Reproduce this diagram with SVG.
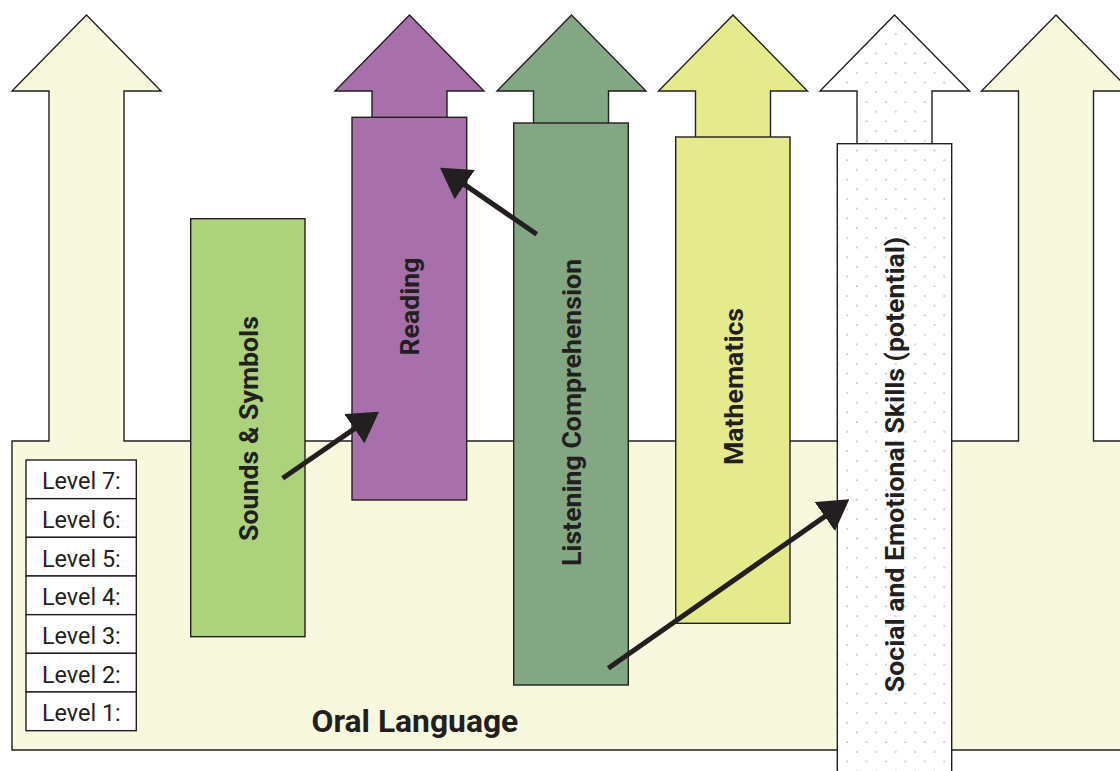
<svg xmlns="http://www.w3.org/2000/svg" width="1120" height="771" viewBox="0 0 1120 771">
  <style>
    .shape { stroke: #231f20; stroke-width: 1.4; stroke-linejoin: miter; }
    .cream { fill: #f8f8de; }
    .purple { fill: #a870ab; }
    .green { fill: #82a782; }
    .lgreen { fill: #acd37c; }
    .yellow { fill: #e5ea8c; }
    .dotted { fill: url(#dots); }
    .vlabel { font-family: Roboto, "Liberation Sans", sans-serif; font-weight: bold; font-size: 26.7px; fill: #231f20; text-anchor: middle; }
    .level { font-family: Roboto, "Liberation Sans", sans-serif; font-size: 23.4px; fill: #231f20; }
    .title { font-family: Roboto, "Liberation Sans", sans-serif; font-weight: bold; font-size: 31.8px; fill: #231f20; }
    .box { fill: #ffffff; stroke: #231f20; stroke-width: 1.4; }
    .conn { stroke: #231f20; stroke-width: 5; fill: none; marker-end: url(#head); }
  </style>
  <defs>
    <pattern id="dots" patternUnits="userSpaceOnUse" x="837.5" y="0" width="19.4" height="19.4">
      <rect width="19.4" height="19.4" fill="#ffffff"/>
      <circle cx="9.7" cy="5" r="0.8" fill="#a8a8a8"/>
      <circle cx="0" cy="14.7" r="0.8" fill="#a8a8a8"/>
      <circle cx="19.4" cy="14.7" r="0.8" fill="#a8a8a8"/>
    </pattern>
    <marker id="head" markerUnits="strokeWidth" viewBox="0 0 6 7.1" markerWidth="6" markerHeight="7.1" refX="0.4" refY="3.55" orient="auto">
      <path d="M0,0 L6,3.55 L0,7.1 Z" fill="#231f20"/>
    </marker>
  </defs>

  <g id="oral-language">
    <path class="shape cream" d="M12,441 L49,441 L49,91 L12,91 L86.5,15 L161,91 L124,91 L124,441 L1018.5,441 L1018.5,91 L981.5,91 L1056,15 L1130.5,91 L1093.5,91 L1093.5,441 L1130,441 L1130,750 L12,750 Z"/>
    <text class="title" x="311.5" y="731.5">Oral Language</text>
  </g>

  <g id="levels">
    <rect class="box" x="26" y="460" width="110.3" height="38.67"/>
    <rect class="box" x="26" y="498.67" width="110.3" height="38.67"/>
    <rect class="box" x="26" y="537.33" width="110.3" height="38.67"/>
    <rect class="box" x="26" y="576" width="110.3" height="38.67"/>
    <rect class="box" x="26" y="614.67" width="110.3" height="38.67"/>
    <rect class="box" x="26" y="653.33" width="110.3" height="38.67"/>
    <rect class="box" x="26" y="692" width="110.3" height="38.67"/>
    <text class="level" x="42" y="489.3">Level 7:</text>
    <text class="level" x="42" y="528">Level 6:</text>
    <text class="level" x="42" y="566.6">Level 5:</text>
    <text class="level" x="42" y="605.3">Level 4:</text>
    <text class="level" x="42" y="644">Level 3:</text>
    <text class="level" x="42" y="682.6">Level 2:</text>
    <text class="level" x="42" y="721.3">Level 1:</text>
  </g>

  <g id="sounds-symbols">
    <rect class="shape lgreen" x="190.7" y="218.7" width="114.3" height="418"/>
    <text class="vlabel" transform="translate(257.5,428.5) rotate(-90)">Sounds &amp; Symbols</text>
  </g>

  <g id="reading">
    <polygon class="shape purple" points="409.5,15 484,91 447,91 447,125 372,125 372,91 335,91"/>
    <rect class="shape purple" x="352" y="117.3" width="114.7" height="382.7"/>
    <text class="vlabel" transform="translate(418.5,306.5) rotate(-90)">Reading</text>
  </g>

  <g id="listening-comprehension">
    <polygon class="shape green" points="571.5,15 646,91 608.5,91 608.5,130 533.5,130 533.5,91 497,91"/>
    <rect class="shape green" x="513.7" y="123" width="114.6" height="562"/>
    <text class="vlabel" transform="translate(580.5,412.5) rotate(-90)">Listening Comprehension</text>
  </g>

  <g id="mathematics">
    <polygon class="shape yellow" points="733,15 807.5,91 770.5,91 770.5,145 695.5,145 695.5,91 658.5,91"/>
    <rect class="shape yellow" x="675.7" y="137" width="114.3" height="486.3"/>
    <text class="vlabel" transform="translate(743,386.5) rotate(-90)">Mathematics</text>
  </g>

  <g id="social-emotional">
    <polygon class="shape dotted" points="894.5,15 969.5,91 932,91 932,150 857,150 857,91 820,91"/>
    <rect class="shape dotted" x="837.3" y="143.7" width="114.4" height="640"/>
    <text class="vlabel" transform="translate(904.3,464.5) rotate(-90)">Social and Emotional Skills (potential)</text>
  </g>

  <g id="connectors">
    <line class="conn" x1="282.7" y1="478.3" x2="356" y2="427.6"/>
    <line class="conn" x1="536.7" y1="234.3" x2="463.1" y2="183.6"/>
    <line class="conn" x1="608.3" y1="668.3" x2="826.4" y2="515.4"/>
  </g>
</svg>
